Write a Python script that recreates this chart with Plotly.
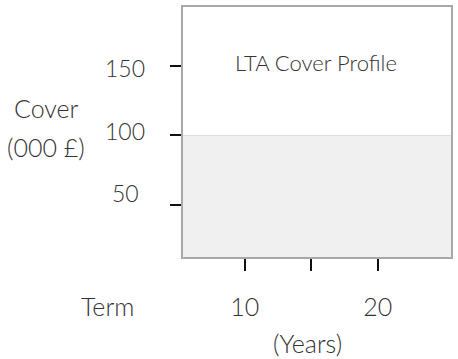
import plotly.graph_objects as go

# Data
term_years = [0, 30]
cover_thousands = [100, 100]
y_tick_values = [150, 100, 50]
y_tick_labels = ["150", "100", "50"]
x_tick_values = [10, 15, 20]
x_tick_labels = ["10", "", "20"]

FONT = "Source Sans Pro, Lato, Open Sans, sans-serif"
TXT = "#333333"

fig = go.Figure()
fig.add_trace(go.Scatter(
    x=term_years, y=cover_thousands, mode="lines", fill="tozeroy",
    fillcolor="#f0f0f0", line=dict(color="#dcdcdc", width=1),
    hoverinfo="skip", showlegend=False,
))

fig.update_xaxes(
    range=[5.35, 25.5], tickvals=x_tick_values, ticktext=x_tick_labels,
    ticks="outside", ticklen=12, tickwidth=2, tickcolor="#111",
    showline=True, linecolor="#a8a8a8", linewidth=2, mirror=True,
    showgrid=False, zeroline=False, ticklabelstandoff=15,
    tickfont=dict(family=FONT, size=25, color=TXT, weight=300),
)
fig.update_yaxes(
    range=[12, 193], tickvals=y_tick_values, ticktext=["", "", ""],
    ticks="outside", ticklen=11, tickwidth=2, tickcolor="#111",
    showline=True, linecolor="#a8a8a8", linewidth=2, mirror=True,
    showgrid=False, zeroline=False,
)

label_shift = [-2, 4, 12]
for v, t, s in zip(y_tick_values, y_tick_labels, label_shift):
    fig.add_annotation(x=-0.216, xref="paper", y=v, yref="y", text=t,
                       showarrow=False, xanchor="center", yanchor="middle", yshift=s,
                       font=dict(family=FONT, size=23, color=TXT, weight=300))

texts = [
    ("Cover", -0.511, 0.595, 25),
    ("(000 £)", -0.511, 0.442, 25),
    ("Term", -0.28, -0.196, 25),
    ("(Years)", 0.466, -0.345, 25),
    ("LTA Cover Profile", 0.496, 0.778, 22),
]
for t, x, y, fs in texts:
    fig.add_annotation(x=x, y=y, xref="paper", yref="paper", text=t, showarrow=False,
                       xanchor="center", yanchor="middle",
                       font=dict(family=FONT, size=fs, color=TXT, weight=300))

fig.update_layout(
    width=458, height=359, margin=dict(l=183, r=7, t=5, b=102),
    paper_bgcolor="white", plot_bgcolor="white",
)
fig.write_html("out.html")
